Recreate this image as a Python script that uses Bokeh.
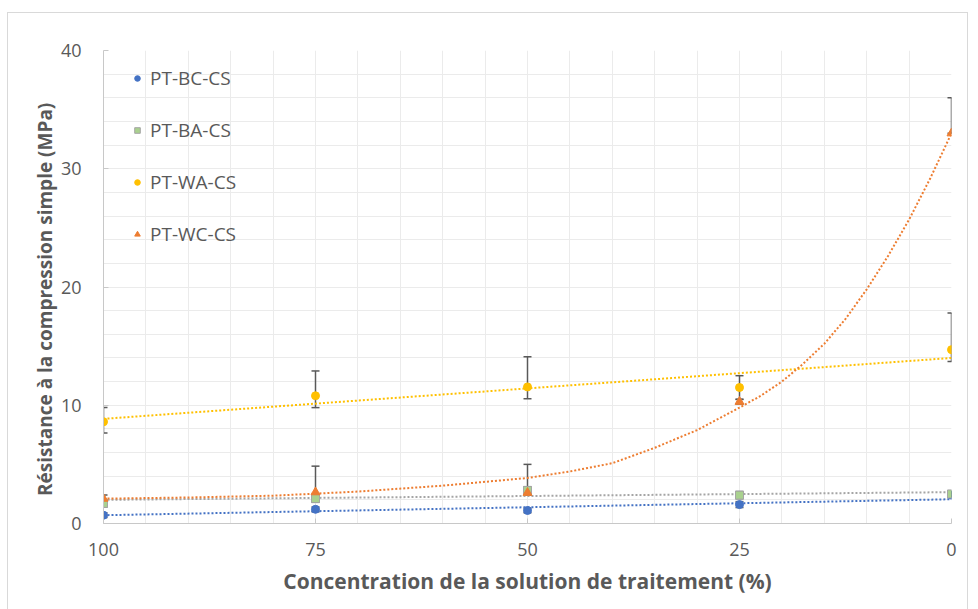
from bokeh.plotting import figure
from bokeh.models import (Range1d, FixedTicker, ColumnDataSource, Whisker, TeeHead,
                          Legend, LegendItem)
from bokeh.embed import file_html
from bokeh.resources import INLINE

# ---------------- data ----------------
conc = [100, 75, 50, 25, 0]

bc = [0.7, 1.2, 1.1, 1.6, 2.4]
bc_lo = [0.5, 1.0, 0.9, 1.35, 2.2]
bc_hi = [0.9, 1.4, 1.3, 1.85, 2.6]

ba = [1.7, 2.1, 2.8, 2.4, 2.5]
ba_lo = [1.4, 1.8, 2.5, 2.1, 2.3]
ba_hi = [2.0, 2.4, 3.1, 2.7, 2.7]

wa = [8.6, 10.8, 11.55, 11.5, 14.7]
wa_lo = [7.65, 9.8, 10.55, 10.5, 13.7]
wa_hi = [9.8, 12.9, 14.1, 12.5, 17.8]

wc = [2.1, 2.65, 2.6, 10.3, 33.0]
wc_lo = [1.9, 2.4, 2.4, 10.1, 33.0]
wc_hi = [2.4, 4.85, 5.0, 10.5, 36.0]

# trend lines
trend_x_lin = [100, 0]
bc_trend = [0.7, 2.05]
ba_trend = [2.0, 2.65]
wa_trend = [8.85, 14.0]
wc_trend_x = [100, 90, 80, 70, 60, 50, 45, 40, 35, 30, 25, 22.5, 20, 17.5, 15,
              12.5, 10, 7.5, 5, 2.5, 0]
wc_trend = [2.1, 2.2, 2.35, 2.7, 3.2, 3.85, 4.4, 5.1, 6.4, 7.9, 9.8, 10.8, 12.0, 13.5, 15.2,
            17.3, 19.8, 22.6, 25.7, 29.2, 33.0]

labels = ["PT-BC-CS", "PT-BA-CS", "PT-WA-CS", "PT-WC-CS"]
x_ticks = [100, 75, 50, 25, 0]
y_ticks = [0, 10, 20, 30, 40]

# ---------------- styles ----------------
FONT = "Open Sans"
TXT = "#595959"
BLUE = "#4472C4"
GREEN = "#A9D18E"
GRAY = "#A5A5A5"
YELLOW = "#FFC000"
ORANGE = "#ED7D31"

p = figure(width=959, height=596, output_backend="svg", toolbar_location=None,
           x_range=Range1d(100, 0), y_range=Range1d(0, 40),
           min_border_left=95, min_border_right=16, min_border_top=37, min_border_bottom=86)
p.margin = (13, 0, 0, 8)
p.styles = {"outline": "1px solid #D9D9D9"}
p.outline_line_color = None
p.background_fill_color = "white"
p.border_fill_color = "white"

# grid
p.xgrid.ticker = FixedTicker(ticks=list(range(0, 101, 5)))
p.ygrid.ticker = FixedTicker(ticks=list(range(0, 41, 2)))
p.grid.grid_line_color = "#EBEBEB"
p.grid.grid_line_width = 1

# axes
p.xaxis.ticker = FixedTicker(ticks=x_ticks)
p.yaxis.ticker = FixedTicker(ticks=y_ticks)
for ax in (p.xaxis, p.yaxis):
    ax.axis_line_color = "#C8C8C8"
    ax.major_tick_in = 5
    ax.major_tick_out = 0
    ax.major_tick_line_color = "#C8C8C8"
    ax.minor_tick_line_color = None
    ax.major_label_text_font = FONT
    ax.major_label_text_font_size = "18px"
    ax.major_label_text_color = TXT
    ax.axis_label_text_font = FONT
    ax.axis_label_text_font_style = "bold"
    ax.axis_label_text_color = TXT
p.xaxis.axis_label = "Concentration de la solution de traitement (%)"
p.yaxis.axis_label = "Résistance à la compression simple (MPa)\u00a0\u00a0\u00a0\u00a0\u00a0"
p.xaxis.axis_label_text_font_size = "21px"
p.yaxis.axis_label_text_font_size = "19px"
p.xaxis.major_label_standoff = 19
p.xaxis.axis_label_standoff = 8
p.yaxis.major_label_standoff = 22
p.yaxis.axis_label_standoff = 0

# trend lines
p.line(trend_x_lin, bc_trend, line_color=BLUE, line_width=2, line_dash="2 2")
p.line(trend_x_lin, ba_trend, line_color=GRAY, line_width=2, line_dash="2 2")
p.line(trend_x_lin, wa_trend, line_color=YELLOW, line_width=2, line_dash="2 2")
p.line(wc_trend_x, wc_trend, line_color=ORANGE, line_width=2, line_dash="2 2")

# error bars
for lo, hi in ((bc_lo, bc_hi), (ba_lo, ba_hi), (wa_lo, wa_hi), (wc_lo, wc_hi)):
    src = ColumnDataSource(dict(x=conc, lo=lo, hi=hi))
    w = Whisker(base="x", lower="lo", upper="hi", source=src,
                line_color=TXT, line_width=1.5, level="underlay",
                upper_head=TeeHead(size=8, line_color=TXT, line_width=1.5),
                lower_head=TeeHead(size=8, line_color=TXT, line_width=1.5))
    p.add_layout(w)

# markers
r_bc = p.scatter(conc, bc, marker="circle", size=8, fill_color=BLUE, line_color=BLUE)
r_ba = p.scatter(conc, ba, marker="square", size=8, fill_color=GREEN, line_color=GRAY)
r_wa = p.scatter(conc, wa, marker="circle", size=8, fill_color=YELLOW, line_color=YELLOW)
r_wc = p.scatter(conc, wc, marker="triangle", size=9, fill_color=ORANGE, line_color=ORANGE)

legend = Legend(items=[LegendItem(label=labels[0], renderers=[r_bc]),
                       LegendItem(label=labels[1], renderers=[r_ba]),
                       LegendItem(label=labels[2], renderers=[r_wa]),
                       LegendItem(label=labels[3], renderers=[r_wc])],
                location=(27, 276), padding=0, margin=0, spacing=26,
                glyph_width=14, glyph_height=20, label_height=20, label_standoff=6,
                label_text_font=FONT, label_text_font_size="19px", label_text_color=TXT,
                border_line_color=None, background_fill_alpha=0)
p.add_layout(legend)

open("out.html", "w").write(file_html(p, INLINE))
